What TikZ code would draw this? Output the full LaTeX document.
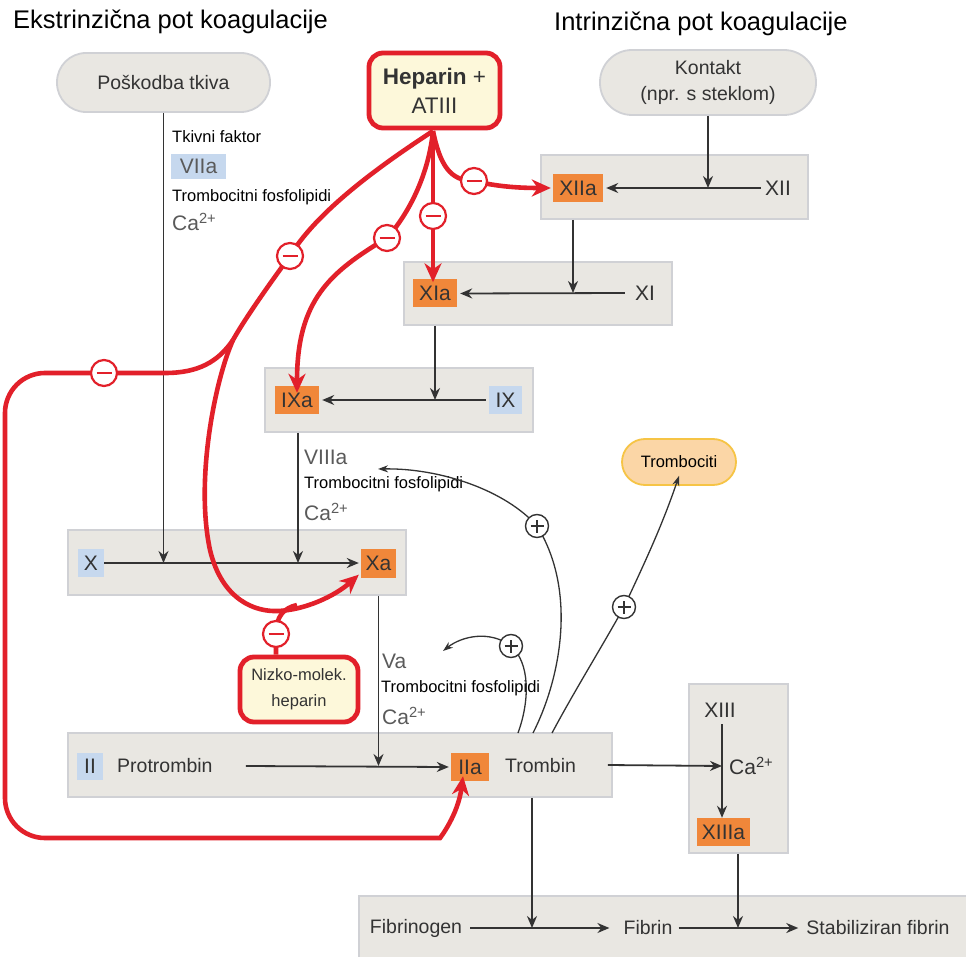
\documentclass[tikz,border=0pt]{standalone}
\usepackage{fontspec}
\setmainfont{Liberation Sans}
\usetikzlibrary{arrows.meta}
\definecolor{boxgray}{HTML}{E9E7E2}
\definecolor{boxline}{HTML}{D0D1D5}
\definecolor{fact}{HTML}{F0873A}
\definecolor{blu}{HTML}{C6D8EE}
\definecolor{hred}{HTML}{E2202A}
\definecolor{cream}{HTML}{FDF8DA}
\definecolor{peach}{HTML}{FBD6A6}
\definecolor{gold}{HTML}{F6C445}
\definecolor{ink}{HTML}{333333}
\definecolor{gtxt}{HTML}{5A5A5A}
\newcommand{\fbig}{\fontsize{25.5}{30}\selectfont}
\newcommand{\ffac}{\fontsize{21}{25}\selectfont}
\newcommand{\fmid}{\fontsize{19.5}{26}\selectfont}
\newcommand{\fsm}{\fontsize{16.5}{26}\selectfont}
\begin{document}
\begin{tikzpicture}[x=1pt,y=-1pt,
  rowbox/.style={draw=boxline, line width=1.8, fill=boxgray, inner sep=0},
  pill/.style={draw=boxline, line width=1.8, fill=boxgray, rounded corners=29, inner sep=0, align=center, font=\fmid, text=ink},
  fa/.style={fill=fact, text=ink, font=\ffac, inner sep=0, minimum height=28},
  fb/.style={fill=blu, text=ink, font=\ffac, inner sep=0, minimum height=28},
  lbl/.style={inner sep=0, font=\fmid, text=ink},
  sml/.style={inner sep=0, font=\fsm, text=black, anchor=west},
  gry/.style={inner sep=0, font=\ffac, text=gtxt, anchor=west},
  arr/.style={draw=ink, line width=1.8, -{Stealth[length=12,width=10]}},
  thin/.style={draw=ink, line width=1.3, -{Stealth[length=10,width=7]}},
  harr/.style={draw=hred, line width=4.6, -{Stealth[length=19,width=17,inset=6]}},
  hln/.style={draw=hred, line width=4.6},
  hbox/.style={draw=hred, line width=4.8, fill=cream, rounded corners=14, inner sep=0, align=center, text=ink},
  minus/.style={circle, draw=hred, line width=2.2, fill=white, minimum size=26, inner sep=0,
    path picture={\draw[hred, line width=2.8] ([xshift=-7.5]path picture bounding box.center) -- ([xshift=7.5]path picture bounding box.center);}},
  plus/.style={circle, draw=ink, line width=1.4, fill=white, minimum size=23, inner sep=0,
    path picture={\draw[ink, line width=2] ([xshift=-6.5]path picture bounding box.center) -- ([xshift=6.5]path picture bounding box.center)
      ([yshift=-6.5]path picture bounding box.center) -- ([yshift=6.5]path picture bounding box.center);}}
]
\useasboundingbox (0,0) rectangle (966,957);
\fill[white] (0,0) rectangle (966,957);

% titles
\node[inner sep=0, anchor=west, font=\fbig] (t1) at (13,22) {Ekstrinzična pot koagulacije};
\node[inner sep=0, anchor=west, font=\fbig] (t2) at (554,24) {Intrinzična pot koagulacije};

% start nodes
\node[pill, minimum width=213, minimum height=59] (Pos) at (163.5,82.5) {Poškodba tkiva};
\node[pill, minimum width=216, minimum height=65, rounded corners=32] (Kon) at (708,82.5) {Kontakt\\(npr. s steklom)};
\node[hbox, minimum width=131, minimum height=75, font=\fontsize{22.5}{29}\selectfont] (Hep) at (434.5,90.5) {\textbf{Heparin} +\\ATIII};
\node[draw=gold, line width=1.8, fill=peach, rounded corners=23, minimum width=114, minimum height=46, inner sep=0, font=\fsm] (Trc) at (679,462) {Trombociti};
\node[hbox, minimum width=118, minimum height=65, font=\fsm] (Niz) at (299,689.5) {Nizko-molek.\\heparin};

% row boxes
\node[rowbox, minimum width=267, minimum height=64] (rowXII) at (674.5,187) {};
\node[rowbox, minimum width=268, minimum height=63] (rowXI) at (538,293.5) {};
\node[rowbox, minimum width=268, minimum height=64] (rowIX) at (399,400) {};
\node[rowbox, minimum width=338, minimum height=65] (rowX) at (237,562.5) {};
\node[rowbox, minimum width=544, minimum height=64] (rowII) at (340,765) {};
\node[rowbox, minimum width=99, minimum height=169] (rowXIII) at (738.5,768.5) {};
\node[rowbox, minimum width=612, minimum height=64, anchor=north west] (rowF) at (358,895) {};

% factors
\node[fa, minimum width=50] (XIIa) at (578,188) {XIIa};
\node[lbl, font=\ffac] (XII) at (778,188) {XII};
\node[fa, minimum width=44] (XIa) at (435,293.5) {XIa};
\node[lbl, font=\ffac] (XI) at (645,293) {XI};
\node[fa, minimum width=44] (IXa) at (297,400) {IXa};
\node[fb, minimum width=33] (IX) at (505.5,400) {IX};
\node[fb, minimum width=26] (X) at (91,563) {X};
\node[fa, minimum width=35, minimum height=29] (Xa) at (378.5,563) {Xa};
\node[fb, minimum width=26, minimum height=27] (II) at (90,766) {II};
\node[lbl, anchor=west] (Pro) at (117,766) {Protrombin};
\node[fa, minimum width=38] (IIa) at (470,767) {IIa};
\node[lbl, anchor=west] (Trb) at (505,766) {Trombin};
\node[lbl, font=\ffac] (XIII) at (720,710) {XIII};
\node[fa, minimum width=53] (XIIIa) at (723.5,832) {XIIIa};
\node[lbl] (Fbg) at (416,928) {Fibrinogen};
\node[lbl] (Fib) at (648,928) {Fibrin};
\node[lbl] (Stab) at (878,928) {Stabiliziran fibrin};

% cofactor labels
\node[sml] (tf) at (172,137) {Tkivni faktor};
\node[fb, minimum width=55, minimum height=25, text=gtxt] (VIIa) at (198.5,166.5) {VIIa};
\node[sml] (tp1) at (172,197) {Trombocitni fosfolipidi};
\node[gry] (ca1) at (172,222) {Ca\textsuperscript{2+}};
\node[gry] (VIIIa) at (304,457) {VIIIa};
\node[sml] (tp2) at (304,484) {Trombocitni fosfolipidi};
\node[gry] (ca2) at (304,512) {Ca\textsuperscript{2+}};
\node[gry] (Va) at (382,661) {Va};
\node[sml] (tp3) at (381,688) {Trombocitni fosfolipidi};
\node[gry] (ca3) at (382,716) {Ca\textsuperscript{2+}};
\node[gry, text=ink] (ca4) at (729,766) {Ca\textsuperscript{2+}};

% junctions
\coordinate (jK) at (708,188);
\coordinate (jXI) at (573,293);
\coordinate (jIX) at (435,400);
\coordinate (jX1) at (163.5,563);
\coordinate (jX2) at (298,563);
\coordinate (jII) at (378.5,766);
\coordinate (jXIII) at (722,766);
\coordinate (jF1) at (532,928);
\coordinate (jF2) at (738,928);

% black arrows
\draw[arr] (Kon.south) -- (jK);
\draw[arr] ([xshift=-4]XII.west) -- ([xshift=3]XIIa.east);
\draw[arr] (rowXII.south -| jXI) -- (jXI);
\draw[arr] ([xshift=-10]XI.west) -- ([xshift=3]XIa.east);
\draw[arr] (rowXI.south -| jIX) -- (jIX);
\draw[arr] ([xshift=-3]IX.west) -- ([xshift=3]IXa.east);
\draw[arr] (Pos.south) -- (jX1);
\draw[arr] (rowIX.south -| jX2) -- (jX2);
\draw[arr] (X.east) -- ([xshift=-2]Xa.west);
\draw[arr] (rowX.south -| jII) -- (jII);
\draw[arr] ([xshift=33]Pro.east) -- ([xshift=-2]IIa.west);
\draw[arr] ([xshift=-5]rowII.east) -- (jXIII);
\draw[arr] ([yshift=-7]XIII.south -| jXIII) -- (XIIIa.north -| jXIII);
\draw[arr] (rowII.south -| jF1) -- (jF1);
\draw[arr] (rowXIII.south -| jF2) -- (jF2);
\draw[arr] ([xshift=8]Fbg.east) -- ([xshift=-14]Fib.west);
\draw[arr] ([xshift=6]Fib.east) -- ([xshift=-8]Stab.west);

% thin feedback curves
\coordinate (cs1) at (518,733);
\coordinate (cs2) at (533,733);
\coordinate (cs3) at (552,733);
\coordinate (pp1) at (511,646);
\coordinate (pp2) at (537,526);
\coordinate (pp3) at (624,607);
\coordinate (ct1) at (443,651);
\coordinate (ct2) at (378,469);
\draw[thin] (cs1) .. controls (530,700) and (530,663) .. (pp1) .. controls (490,630) and (462,636) .. (ct1);
\draw[thin] (cs2) .. controls (560,680) and (578,592) .. (pp2) .. controls (505,490) and (440,468) .. (ct2);
\draw[thin] (cs3) .. controls (575,690) and (600,650) .. (pp3) .. controls (645,562) and (662,526) .. ([yshift=10]Trc.south);
\node[plus] (p1) at (pp1) {};
\node[plus] (p2) at (pp2) {};
\node[plus] (p3) at (pp3) {};

% red inhibition paths
\coordinate (O) at (433,131);
\coordinate (pm1) at (474,181);
\coordinate (pm2) at (433,216);
\coordinate (pm3) at (387,238);
\coordinate (pm4) at (290,256);
\coordinate (pm5) at (104,373);
\coordinate (pm6) at (276,634);
\coordinate (S) at (233,340);
\coordinate (J) at (297,605);
\draw[harr] (O) .. controls (440,165) and (450,181) .. (pm1) .. controls (495,186) and (515,188) .. ([xshift=-2]XIIa.west);
\draw[harr] (O) -- (pm2) -- ([yshift=-3]O |- XIa.north);
\draw[harr] (O) .. controls (428,180) and (405,218) .. (pm3) .. controls (330,272) and (297,300) .. ([yshift=-7]IXa.north);
\draw[hln] (O) .. controls (395,156) and (320,206) .. (pm4) .. controls (265,290) and (243,322) .. (S);
\draw[harr] (S) .. controls (215,380) and (195,480) .. (210,550) .. controls (222,600) and (255,612) .. (278,611) .. controls (305,610) and (335,596) .. ([xshift=-2,yshift=3]Xa.south west);
\draw[harr] (S) .. controls (218,362) and (198,373) .. (165,373) [rounded corners=40] -- (5,373) -- (5,838) -- (400,838) [sharp corners] .. controls (440,838) and (458,815) .. ([yshift=5]IIa.south -| 463,0);
\draw[hln] (Niz.north -| pm6) -- (pm6) .. controls (276,616) and (284,608) .. (J);
\node[minus] (m1) at (pm1) {};
\node[minus] (m2) at (pm2) {};
\node[minus] (m3) at (pm3) {};
\node[minus] (m4) at (pm4) {};
\node[minus] (m5) at (pm5) {};
\node[minus] (m6) at (pm6) {};
\end{tikzpicture}
\end{document}
